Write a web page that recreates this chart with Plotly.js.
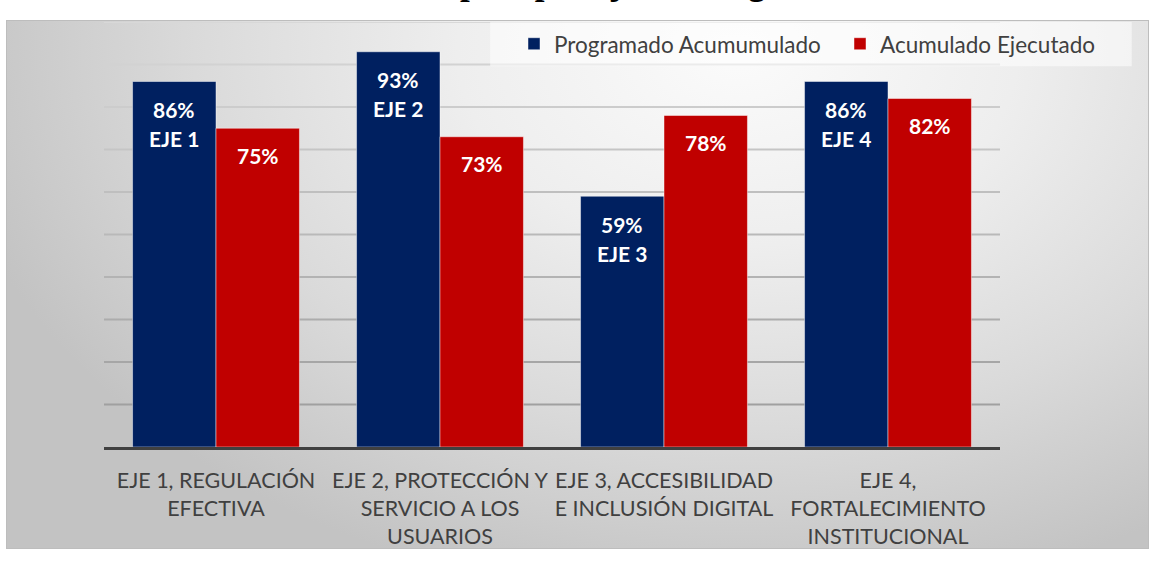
<!DOCTYPE html>
<html>
<head>
<meta charset="utf-8">
<script src="https://cdn.plot.ly/plotly-3.0.1.min.js"></script>
<style>
  html, body { margin:0; padding:0; background:#ffffff; width:1151px; height:562px; overflow:hidden; }
  #frame { position:absolute; left:6px; top:20px; width:1141px; height:527px;
    border:1px solid #bdbdbd;
    background: radial-gradient(ellipse 70% 105% at 64% 6%, #fbfbfb 0%, #eeeeee 35%, #dadada 68%, #c3c3c3 100%); }
  #chart { position:absolute; left:0; top:0; width:1151px; height:562px; }
</style>
</head>
<body>
<div id="frame"></div>
<div id="chart"></div>
<script>
// ---- data ----
const categories = [
  "EJE 1, REGULACIÓN<br>EFECTIVA",
  "EJE 2, PROTECCIÓN Y<br>SERVICIO A LOS<br>USUARIOS",
  "EJE 3, ACCESIBILIDAD<br>E INCLUSIÓN DIGITAL",
  "EJE 4,<br>FORTALECIMIENTO<br>INSTITUCIONAL"
];
const ejeLabels = ["EJE 1", "EJE 2", "EJE 3", "EJE 4"];
const programado = [0.86, 0.93, 0.59, 0.86];
const ejecutado = [0.75, 0.73, 0.78, 0.82];
const seriesNames = ["Programado Acumumulado", "Acumulado Ejecutado"];
const gridVals = [0.1, 0.2, 0.3, 0.4, 0.5, 0.6, 0.7, 0.8, 0.9, 1.0];
const titleText = "Avance plan por eje estratégico";

// ---- style ----
const BLUE = "#002060", RED = "#C00000";
const BARGAP = 0.255;
const half = (1 - BARGAP) / 4;
const pct = v => Math.round(v * 100) + "%";
const labelFont = {family: "Lato, 'Open Sans', sans-serif", size: 21, color: "#ffffff", weight: 700};

const traces = [
  {type: "bar", name: seriesNames[0], x: categories, y: programado,
   marker: {color: BLUE, line: {color: "rgba(255,255,255,0.45)", width: 1}}, hoverinfo: "skip"},
  {type: "bar", name: seriesNames[1], x: categories, y: ejecutado,
   marker: {color: RED, line: {color: "rgba(255,255,255,0.45)", width: 1}}, hoverinfo: "skip"}
];

const annotations = [];
programado.forEach((v, i) => {
  annotations.push({x: i - half, y: v, xref: "x", yref: "y", text: "<b>" + pct(v) + "</b>",
    showarrow: false, yanchor: "middle", yshift: -28, font: labelFont});
  annotations.push({x: i - half, y: v, xref: "x", yref: "y", text: "<b>" + ejeLabels[i] + "</b>",
    showarrow: false, yanchor: "middle", yshift: -57, font: labelFont});
});
ejecutado.forEach((v, i) => {
  annotations.push({x: i + half, y: v, xref: "x", yref: "y", text: "<b>" + pct(v) + "</b>",
    showarrow: false, yanchor: "middle", yshift: -27, font: labelFont});
});
annotations.push({x: 0.526, y: 1 + 22 / 425, xref: "paper", yref: "paper", text: "<b>" + titleText + "</b>",
  showarrow: false, yanchor: "middle", yshift: 18, xanchor: "center",
  font: {family: "'Liberation Serif', 'Times New Roman', serif", size: 35, color: "#000000"}});

const shapes = gridVals.map(g => {
  const t = (g - 0.1) / 0.9;
  const c = Math.round(160 + (216 - 160) * t);
  return {type: "line", xref: "paper", yref: "y", x0: 0, x1: 1, y0: g, y1: g, layer: "below",
    line: {color: `rgb(${c},${c},${c})`, width: 2}};
});
// legend backdrop
shapes.push({type: "rect", xref: "paper", yref: "paper", x0: 0.431, x1: 1.147, y0: 0.896, y1: 1.0,
  layer: "below", line: {width: 0}, fillcolor: "rgba(255,255,255,0.55)"});

const layout = {
  width: 1151, height: 562,
  margin: {l: 104, r: 151, t: 22, b: 115, autoexpand: false},
  paper_bgcolor: "rgba(0,0,0,0)", plot_bgcolor: "rgba(0,0,0,0)",
  barmode: "group", bargap: BARGAP, bargroupgap: 0,
  font: {family: "Lato, 'Open Sans', sans-serif", color: "#404040"},
  xaxis: {type: "category", showgrid: false, showline: true, linecolor: "#404040", linewidth: 3,
    ticks: "", tickangle: 0, tickfont: {size: 21.5, color: "#404040"}, ticklabelstandoff: 12,
    automargin: false, fixedrange: true},
  yaxis: {range: [0, 1], showgrid: false, zeroline: false, showticklabels: false, fixedrange: true},
  showlegend: true,
  legend: {orientation: "h", x: (514 - 104) / 896, xanchor: "left", y: 0.948, yanchor: "middle",
    entrywidth: 281, entrywidthmode: "pixels",
    bgcolor: "rgba(0,0,0,0)", font: {size: 22.5, color: "#404040"}, traceorder: "normal"},
  annotations: annotations,
  shapes: shapes
};

Plotly.newPlot("chart", traces, layout, {displayModeBar: false, staticPlot: true});
</script>
</body>
</html>
